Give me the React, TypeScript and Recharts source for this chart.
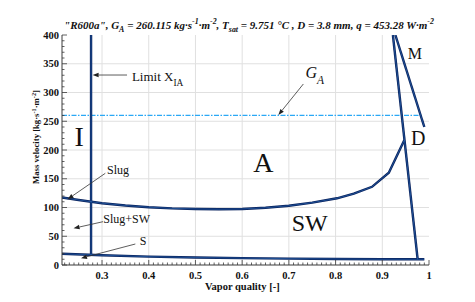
import React from 'react';
import { LineChart, Line, XAxis, YAxis, ReferenceLine, ReferenceDot } from 'recharts';

const FONT = "'Liberation Serif', 'DejaVu Serif', 'Times New Roman', serif";
const AXIS_COLOR = '#3a3a3a';
const GRID_COLOR = '#e0e0e0';
const LINE_DARK = '#08215c';
const LINE_LIGHT = '#3f93e6';
const GA_COLOR = '#2aa8f5';

const X_MIN = 0.2143;
const X_MAX = 1;
const Y_MIN = 0;
const Y_MAX = 400;

// tick labels
const xTickLabels = [0.3, 0.4, 0.5, 0.6, 0.7, 0.8, 0.9, 1];
const yTickLabels = [0, 50, 100, 150, 200, 250, 300, 350, 400];

// minor tick positions (axis decoration)
const xMinorTicks: number[] = [];
for (let i = 22; i <= 100; i++) xMinorTicks.push(i / 100);
const yMinorTicks: number[] = [];
for (let v = 0; v <= 400; v += 10) yMinorTicks.push(v);

// series
const G_A = 260.115;
const gaQuality = [0.2143, 0.986];
const gaMass = [G_A, G_A];

const limitQuality = [0.2765, 0.2765];
const limitMass = [17.8, 400];

const annularQuality = [0.2143, 0.25, 0.3, 0.35, 0.4, 0.45, 0.5, 0.55, 0.6, 0.65, 0.7, 0.75, 0.803, 0.839, 0.878, 0.914, 0.947];
const annularMass = [117.5, 113, 107.5, 103.5, 100.5, 98.5, 97.5, 97, 97.5, 99.5, 103, 108.5, 116, 124, 136, 160.5, 217];

const stratQuality = [0.2143, 0.3, 0.4, 0.5, 0.6, 0.7, 0.8, 0.9, 0.99];
const stratMass = [19.5, 17, 14.5, 13, 12, 11, 10.5, 10, 10];

const dryoutQuality = [0.9227, 0.9757];
const dryoutMass = [400, 10];

const mistQuality = [0.928, 0.99];
const mistMass = [400, 240];

const zip = (xs: number[], ys: number[]) => xs.map((x, i) => ({ x, y: ys[i] }));

const boundaries = [
  zip(limitQuality, limitMass),
  zip(annularQuality, annularMass),
  zip(stratQuality, stratMass),
  zip(dryoutQuality, dryoutMass),
  zip(mistQuality, mistMass),
];

type Part = { t: string; sub?: boolean; sup?: boolean };
type Note = { x: number; y: number; anchor: 'start' | 'middle' | 'end'; size: number; italic?: boolean; parts: Part[] };

const notes: Note[] = [
  { x: 0.364, y: 320, anchor: 'start', size: 13, parts: [{ t: 'Limit X' }, { t: 'IA', sub: true }] },
  { x: 0.7357, y: 324.7, anchor: 'start', size: 16, italic: true, parts: [{ t: 'G' }, { t: 'A', sub: true }] },
  { x: 0.3107, y: 158.3, anchor: 'start', size: 12, parts: [{ t: 'Slug' }] },
  { x: 0.3027, y: 73.6, anchor: 'start', size: 12, parts: [{ t: 'Slug+SW' }] },
  { x: 0.3805, y: 34.8, anchor: 'start', size: 12, parts: [{ t: 'S' }] },
  { x: 0.2513, y: 207, anchor: 'middle', size: 28, parts: [{ t: 'I' }] },
  { x: 0.6455, y: 161.7, anchor: 'middle', size: 28, parts: [{ t: 'A' }] },
  { x: 0.7445, y: 59, anchor: 'middle', size: 24, parts: [{ t: 'SW' }] },
  { x: 0.9697, y: 357.7, anchor: 'middle', size: 16, parts: [{ t: 'M' }] },
  { x: 0.9772, y: 208.7, anchor: 'middle', size: 20, parts: [{ t: 'D' }] },
];

const arrows = [
  [{ x: 0.3535, y: 330.4 }, { x: 0.2798, y: 330.4 }],
  [{ x: 0.731, y: 314.8 }, { x: 0.6775, y: 260.9 }],
  [{ x: 0.307, y: 159.5 }, { x: 0.2263, y: 114.3 }],
  [{ x: 0.3021, y: 75.3 }, { x: 0.2391, y: 63.8 }],
  [{ x: 0.3713, y: 36.5 }, { x: 0.255, y: 11.7 }],
];

const titleParts: Part[] = [
  { t: '"R600a", G' }, { t: 'A', sub: true }, { t: ' = 260.115 kg·s' }, { t: '-1', sup: true },
  { t: '·m' }, { t: '-2', sup: true }, { t: ', T' }, { t: 'sat', sub: true },
  { t: ' = 9.751 °C , D = 3.8 mm, q = 453.28 W·m' }, { t: '-2', sup: true },
];
const yLabelParts: Part[] = [
  { t: 'Mass velocity [kg·s' }, { t: '-1', sup: true }, { t: '·m' }, { t: '-2', sup: true }, { t: ']' },
];

const renderParts = (parts: Part[], size: number) => {
  let shift = 0;
  return parts.map((p, i) => {
    const target = p.sub ? size * 0.35 : p.sup ? -size * 0.4 : 0;
    const dy = target - shift;
    shift = target;
    const fs = p.sub || p.sup ? size * 0.72 : size;
    return (
      <tspan key={i} dy={dy} fontSize={fs}>
        {p.t}
      </tspan>
    );
  });
};

const isXMajor = (v: number) => Math.abs(v * 10 - Math.round(v * 10)) < 1e-6;
const isYMajor = (v: number) => Math.abs(v % 50) < 1e-6;
const fmtX = (v: number) => String(Math.round(v * 10) / 10);

const BottomTick = (p: any) => {
  const v = p.payload.value;
  const major = isXMajor(v);
  return (
    <g>
      <line x1={p.x} y1={p.y} x2={p.x} y2={p.y - (major ? 5 : 2.5)} stroke={AXIS_COLOR} strokeWidth={0.8} />
      {major && xTickLabels.some((t) => Math.abs(t - v) < 1e-6) ? (
        <text x={p.x} y={p.y + 13.5} textAnchor="middle" fontFamily={FONT} fontWeight={700} fontSize={10.5} fill="#111">
          {fmtX(v)}
        </text>
      ) : null}
    </g>
  );
};
const TopTick = (p: any) => {
  const major = isXMajor(p.payload.value);
  return <line x1={p.x} y1={p.y} x2={p.x} y2={p.y + (major ? 5 : 2.5)} stroke={AXIS_COLOR} strokeWidth={0.8} />;
};
const LeftTick = (p: any) => {
  const v = p.payload.value;
  const major = isYMajor(v);
  return (
    <g>
      <line x1={p.x} y1={p.y} x2={p.x + (major ? 5 : 2.5)} y2={p.y} stroke={AXIS_COLOR} strokeWidth={0.8} />
      {major && yTickLabels.includes(v) ? (
        <text x={p.x - 3} y={p.y + 3.7} textAnchor="end" fontFamily={FONT} fontWeight={700} fontSize={10.5} fill="#111">
          {v}
        </text>
      ) : null}
    </g>
  );
};
const RightTick = (p: any) => {
  const major = isYMajor(p.payload.value);
  return <line x1={p.x} y1={p.y} x2={p.x - (major ? 5 : 2.5)} y2={p.y} stroke={AXIS_COLOR} strokeWidth={0.8} />;
};

const ArrowShape = (p: any) => {
  const { x1, y1, x2, y2 } = p;
  const ang = Math.atan2(y2 - y1, x2 - x1);
  const L = 6;
  const W = 2.2;
  const c = Math.cos(ang);
  const s = Math.sin(ang);
  const bx = x2 - L * c;
  const by = y2 - L * s;
  return (
    <g>
      <line x1={x1} y1={y1} x2={bx} y2={by} stroke="#333" strokeWidth={0.8} />
      <polygon points={`${x2},${y2} ${bx - W * s},${by + W * c} ${bx + W * s},${by - W * c}`} fill="#222" />
    </g>
  );
};

const GALineShape = (p: any) => (
  <line
    x1={p.x1}
    y1={p.y1}
    x2={p.x2}
    y2={p.y2}
    style={{ stroke: GA_COLOR, strokeWidth: 1.3, strokeDasharray: '5 1.5 1.5 1.5', fill: 'none' }}
  />
);

const noteLabel = (n: Note) => (props: any) => {
  const vb = props.viewBox || {};
  return (
    <text
      x={vb.x}
      y={vb.y}
      textAnchor={n.anchor}
      fontFamily={FONT}
      fontSize={n.size}
      fontStyle={n.italic ? 'italic' : 'normal'}
      fill="#111"
      style={{ whiteSpace: 'pre' }}
    >
      {renderParts(n.parts, n.size)}
    </text>
  );
};

const gaSegment = zip(gaQuality, gaMass);

export default function App() {
  return (
    <div style={{ position: 'absolute', left: 0, top: 0, width: 475, height: 302, background: '#fff', fontFamily: FONT }}>
      <LineChart width={475} height={302} margin={{ top: 35, right: 46, bottom: 0, left: 0 }}>
        <XAxis
          dataKey="x"
          type="number"
          domain={[X_MIN, X_MAX]}
          allowDataOverflow
          ticks={xMinorTicks}
          interval={0}
          tickSize={0}
          tickMargin={0}
          tickLine={false}
          axisLine={{ stroke: AXIS_COLOR, strokeWidth: 1 }}
          tick={(p: any) => <BottomTick {...p} />}
          height={37}
        />
        <XAxis
          xAxisId="top"
          orientation="top"
          type="number"
          domain={[X_MIN, X_MAX]}
          allowDataOverflow
          ticks={xMinorTicks}
          interval={0}
          tickSize={0}
          tickMargin={0}
          tickLine={false}
          axisLine={{ stroke: AXIS_COLOR, strokeWidth: 1 }}
          tick={(p: any) => <TopTick {...p} />}
          height={0}
        />
        <YAxis
          type="number"
          domain={[Y_MIN, Y_MAX]}
          allowDataOverflow
          ticks={yMinorTicks}
          interval={0}
          tickSize={0}
          tickMargin={0}
          tickLine={false}
          axisLine={{ stroke: AXIS_COLOR, strokeWidth: 1 }}
          tick={(p: any) => <LeftTick {...p} />}
          width={62}
        />
        <YAxis
          yAxisId="right"
          orientation="right"
          type="number"
          domain={[Y_MIN, Y_MAX]}
          allowDataOverflow
          ticks={yMinorTicks}
          interval={0}
          tickSize={0}
          tickMargin={0}
          tickLine={false}
          axisLine={{ stroke: AXIS_COLOR, strokeWidth: 1 }}
          tick={(p: any) => <RightTick {...p} />}
          width={0}
        />
        {xTickLabels.filter((v) => v < X_MAX).map((v) => (
          <ReferenceLine key={'gx' + v} x={v} stroke={GRID_COLOR} strokeWidth={1} />
        ))}
        {yTickLabels.filter((v) => v > Y_MIN && v < Y_MAX).map((v) => (
          <ReferenceLine key={'gy' + v} y={v} stroke={GRID_COLOR} strokeWidth={1} />
        ))}
        <ReferenceLine segment={gaSegment} shape={(p: any) => <GALineShape {...p} />} />
        {boundaries.map((d, i) => (
          <Line
            key={'o' + i}
            data={d}
            dataKey="y"
            type="linear"
            stroke={LINE_DARK}
            strokeWidth={2.4}
            dot={false}
            isAnimationActive={false}
          />
        ))}
        {boundaries.map((d, i) => (
          <Line
            key={'i' + i}
            data={d}
            dataKey="y"
            type="linear"
            stroke={LINE_LIGHT}
            strokeWidth={0.7}
            strokeOpacity={0.6}
            dot={false}
            isAnimationActive={false}
          />
        ))}
        {arrows.map((seg, i) => (
          <ReferenceLine key={'a' + i} segment={seg} shape={(p: any) => <ArrowShape {...p} />} />
        ))}
        {notes.map((n, i) => (
          <ReferenceDot key={'n' + i} x={n.x} y={n.y} r={0} fill="none" stroke="none" label={noteLabel(n)} />
        ))}
      </LineChart>
      <svg width={475} height={302} style={{ position: 'absolute', left: 0, top: 0, pointerEvents: 'none' }}>
        <text
          x={249}
          y={28.5}
          textAnchor="middle"
          fontFamily={FONT}
          fontSize={11}
          fontWeight={700}
          fontStyle="italic"
          fill="#111"
          style={{ whiteSpace: 'pre' }}
        >
          {renderParts(titleParts, 11)}
        </text>
        <text x={242.3} y={289.5} textAnchor="middle" fontFamily={FONT} fontSize={10.5} fontWeight={700} fill="#111">
          Vapor quality [-]
        </text>
        <text
          x={39}
          y={137}
          transform="rotate(-90, 39, 137)"
          textAnchor="middle"
          fontFamily={FONT}
          fontSize={8.7}
          fontWeight={700}
          fill="#111"
          style={{ whiteSpace: 'pre' }}
        >
          {renderParts(yLabelParts, 8.7)}
        </text>
      </svg>
    </div>
  );
}
